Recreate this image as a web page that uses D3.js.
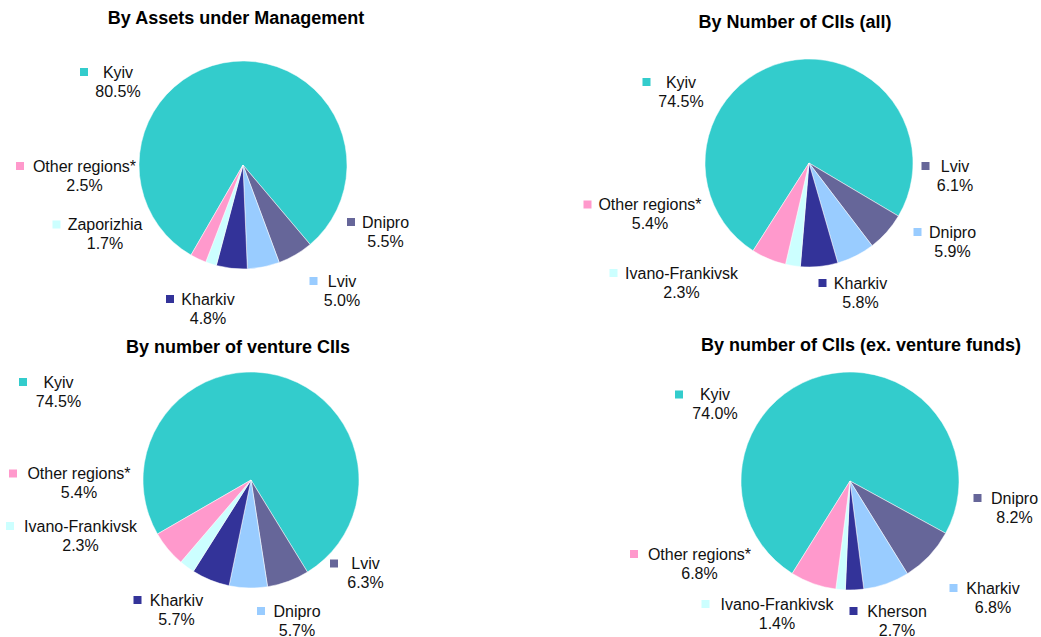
<!DOCTYPE html>
<html lang="en">
<head>
  <meta charset="UTF-8">
  <title>CII regional structure</title>
  <style>
    body { margin: 0; background: #fff; }
    text { font-family: "Liberation Sans", Arial, sans-serif; }
  </style>
</head>
<body>
  <svg id="svg" width="1041" height="637"></svg>

  <script src="https://d3js.org/d3.v7.min.js"></script>
  <script>
    // data (shares in %)
    const aumRegions = ['Kyiv', 'Dnipro', 'Lviv', 'Kharkiv', 'Zaporizhia', 'Other regions*']
    const aumShares = [80.5, 5.5, 5.0, 4.8, 1.7, 2.5]

    const allRegions = ['Kyiv', 'Lviv', 'Dnipro', 'Kharkiv', 'Ivano-Frankivsk', 'Other regions*']
    const allShares = [74.5, 6.1, 5.9, 5.8, 2.3, 5.4]

    const ventureRegions = ['Kyiv', 'Lviv', 'Dnipro', 'Kharkiv', 'Ivano-Frankivsk', 'Other regions*']
    const ventureShares = [74.5, 6.3, 5.7, 5.7, 2.3, 5.4]

    const exVentureRegions = ['Kyiv', 'Dnipro', 'Kharkiv', 'Kherson', 'Ivano-Frankivsk', 'Other regions*']
    const exVentureShares = [74.0, 8.2, 6.8, 2.7, 1.4, 6.8]

    const titles = [
      'By Assets under Management',
      'By Number of CIIs (all)',
      'By number of venture CIIs',
      'By number of CIIs (ex. venture funds)'
    ]

    // colours go by slice position, same in every pie
    const slotColors = ['#33CCCC', '#666699', '#99CCFF', '#333399', '#CCFFFF', '#FF99CC']

    // layout: pie centre/radius, first slice angle (deg), title spot,
    // and where each label sits (cx = text centre, y = first baseline, mx = key left)
    const charts = [
      { regions: aumRegions, shares: aumShares, cx: 243, cy: 165, r: 104, start: 210,
        tx: 236, ty: 24,
        labels: [
          { cx: 118, y: 77.5, mx: 80 },
          { cx: 385.5, y: 227.5, mx: 347 },
          { cx: 342, y: 286.5, mx: 309.5 },
          { cx: 208, y: 304.5, mx: 166 },
          { cx: 105, y: 230, mx: 52.5 },
          { cx: 84.5, y: 171.5, mx: 16 }
        ] },
      { regions: allRegions, shares: allShares, cx: 809, cy: 163, r: 104, start: 212.5,
        tx: 795, ty: 28,
        labels: [
          { cx: 681, y: 87.5, mx: 642.5 },
          { cx: 955, y: 171.5, mx: 921.5 },
          { cx: 952.5, y: 237.5, mx: 913.5 },
          { cx: 860.5, y: 288.5, mx: 818.5 },
          { cx: 681.5, y: 278.5, mx: 609.5 },
          { cx: 650, y: 210, mx: 583.5 }
        ] },
      { regions: ventureRegions, shares: ventureShares, cx: 251, cy: 480, r: 108, start: 240,
        tx: 238, ty: 353,
        labels: [
          { cx: 58.5, y: 387.5, mx: 19 },
          { cx: 365.5, y: 569, mx: 330 },
          { cx: 297, y: 616.5, mx: 257 },
          { cx: 176.5, y: 605.5, mx: 133.5 },
          { cx: 80.5, y: 531.5, mx: 6 },
          { cx: 79, y: 479, mx: 9 }
        ] },
      { regions: exVentureRegions, shares: exVentureShares, cx: 850, cy: 481, r: 109, start: 212,
        tx: 861, ty: 350.5,
        labels: [
          { cx: 715, y: 400, mx: 675 },
          { cx: 1014.5, y: 503.5, mx: 973.5 },
          { cx: 993, y: 593.5, mx: 949.5 },
          { cx: 897, y: 616.5, mx: 849.5 },
          { cx: 777, y: 609.5, mx: 701.5 },
          { cx: 699.5, y: 559.5, mx: 630 }
        ] }
    ]

    const svg = d3.select('#svg')
    const fmt = d3.format('.1f')
    const color = d3.scaleOrdinal().domain(d3.range(6)).range(slotColors)

    charts.forEach((c, ci) => {
      const rad = c.start * Math.PI / 180
      const pie = d3.pie()
        .sort(null)
        .value(d => d)
        .startAngle(rad)
        .endAngle(rad + 2 * Math.PI)
      const arc = d3.arc().innerRadius(0).outerRadius(c.r)

      const g = svg.append('g')

      // title
      g.append('text')
        .attr('x', c.tx)
        .attr('y', c.ty)
        .attr('text-anchor', 'middle')
        .attr('font-size', 18)
        .attr('font-weight', 'bold')
        .attr('fill', '#000')
        .text(titles[ci])

      // slices
      g.append('g')
        .attr('transform', `translate(${c.cx}, ${c.cy})`)
        .selectAll('path')
        .data(pie(c.shares))
        .enter()
        .append('path')
        .attr('d', arc)
        .attr('fill', (d, i) => color(i))
        .attr('stroke', '#fff')
        .attr('stroke-width', 0.5)

      // labels: key square + name, share underneath
      const lab = g.append('g')
        .selectAll('g')
        .data(c.regions.map((name, i) => ({ name, share: c.shares[i], i, pos: c.labels[i] })))
        .enter()
        .append('g')

      lab.append('rect')
        .attr('x', d => d.pos.mx)
        .attr('y', d => d.pos.y - 9.5)
        .attr('width', 8)
        .attr('height', 8)
        .attr('fill', d => color(d.i))

      lab.append('text')
        .attr('x', d => d.pos.cx)
        .attr('y', d => d.pos.y)
        .attr('text-anchor', 'middle')
        .attr('font-size', 16)
        .attr('fill', '#111')
        .text(d => d.name)

      lab.append('text')
        .attr('x', d => d.pos.cx)
        .attr('y', d => d.pos.y + 19)
        .attr('text-anchor', 'middle')
        .attr('font-size', 16)
        .attr('fill', '#111')
        .text(d => fmt(d.share) + '%')
    })
  </script>
</body>
</html>
